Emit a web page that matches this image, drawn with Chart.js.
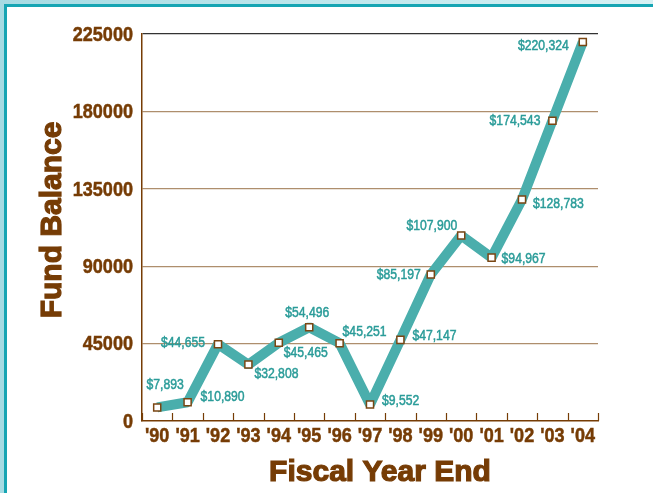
<!DOCTYPE html>
<html>
<head>
<meta charset="utf-8">
<script src="https://cdn.jsdelivr.net/npm/chart.js@4"></script>
<style>
  html, body { margin: 0; padding: 0; }
  body { width: 653px; height: 493px; overflow: hidden; position: relative;
         background: linear-gradient(90deg, #a6dbe3 0%, #c4e9ee 60%, #d6f1f4 100%); }
  #frame { position: absolute; left: 4px; top: 4px; right: -10px; bottom: -10px;
           border-left: 3px solid #16a5b3; border-top: 3px solid #16a5b3; background: #fff; }
  #chart { position: absolute; left: 0; top: 0; }
</style>
</head>
<body>
<div id="frame"></div>
<canvas id="chart" width="653" height="493"></canvas>
<script>
const years = ["'90", "'91", "'92", "'93", "'94", "'95", "'96", "'97", "'98", "'99", "'00", "'01", "'02", "'03", "'04"];
const balances = [7893, 10890, 44655, 32808, 45465, 54496, 45251, 9552, 47147, 85197, 107900, 94967, 128783, 174543, 220324];
const yTicks = [0, 45000, 90000, 135000, 180000, 225000];

// where each value label sits around its point: [dx, dy, align]
const labelPlace = [
  [8, -22, 'center'], [13, -5, 'left'], [-13, -1, 'right'], [6, 10, 'left'], [5, 10, 'left'],
  [-2, -14, 'center'], [3, -11, 'left'], [12, -3, 'left'], [12, -4, 'left'], [-10, 1, 'right'],
  [-4, -9, 'right'], [10, 1, 'left'], [11, 5, 'left'], [-12, 0, 'right'], [-14, 4, 'right']
];

const brown = '#763c05';
const teal = '#4aaeac';
const labelTeal = '#2b9c99';
const sans = '"Liberation Sans", Arial, sans-serif';

// condensed text: squeeze a normal face horizontally, optional stroke to thicken
function narrowText(ctx, text, x, y, align, squeeze, thicken) {
  ctx.save();
  ctx.translate(x, y);
  ctx.scale(squeeze, 1);
  ctx.textAlign = align;
  ctx.fillText(text, 0, 0);
  if (thicken) {
    ctx.lineWidth = thicken;
    ctx.strokeStyle = ctx.fillStyle;
    ctx.strokeText(text, 0, 0);
  }
  ctx.restore();
}

const extras = {
  id: 'extras',
  afterDraw(chart) {
    const ctx = chart.ctx;
    const xs = chart.scales.x;
    const ys = chart.scales.y;
    const area = chart.chartArea;
    ctx.save();
    // category divider ticks pointing up from the axis
    ctx.strokeStyle = brown;
    ctx.lineWidth = 1.2;
    for (let i = 0; i <= years.length; i++) {
      const x = Math.round(xs.getPixelForValue(i - 0.5)) + 0.5;
      ctx.beginPath();
      ctx.moveTo(x, area.bottom);
      ctx.lineTo(x, area.bottom - 8);
      ctx.stroke();
    }
    // axis tick labels
    ctx.fillStyle = brown;
    ctx.textBaseline = 'middle';
    ctx.font = 'bold 21px ' + sans;
    years.forEach((lab, i) => {
      narrowText(ctx, lab, xs.getPixelForValue(i), area.bottom + 15, 'center', 0.86, 0.5);
    });
    yTicks.forEach(v => {
      narrowText(ctx, String(v), area.left - 9, ys.getPixelForValue(v) + 1, 'right', 0.86, 0.5);
    });
    // value labels
    const meta = chart.getDatasetMeta(0);
    ctx.fillStyle = labelTeal;
    ctx.font = '14px ' + sans;
    meta.data.forEach((pt, i) => {
      const [dx, dy, align] = labelPlace[i];
      narrowText(ctx, '$' + balances[i].toLocaleString('en-US'), pt.x + dx, pt.y + dy, align, 0.87, 0.5);
    });
    // axis titles
    ctx.fillStyle = brown;
    ctx.strokeStyle = brown;
    ctx.lineWidth = 1.2;
    ctx.font = 'bold 30px ' + sans;
    ctx.textAlign = 'center';
    ctx.fillText('Fiscal Year End', 380, 473);
    ctx.strokeText('Fiscal Year End', 380, 473);
    ctx.translate(53, 220);
    ctx.rotate(-Math.PI / 2);
    ctx.fillText('Fund Balance', 0, 0);
    ctx.strokeText('Fund Balance', 0, 0);
    ctx.restore();
  }
};

new Chart(document.getElementById('chart'), {
  type: 'line',
  data: {
    labels: years,
    datasets: [{
      data: balances,
      borderColor: teal,
      borderWidth: 10,
      borderJoinStyle: 'bevel',
      tension: 0,
      pointStyle: 'rect',
      pointRadius: 5,
      pointBorderWidth: 1.5,
      pointBorderColor: '#7a4613',
      pointBackgroundColor: '#fff'
    }]
  },
  options: {
    responsive: false,
    animation: false,
    layout: { padding: { top: 34, right: 55, left: 0, bottom: 0 } },
    plugins: { legend: { display: false }, tooltip: { enabled: false } },
    scales: {
      x: {
        offset: true,
        grid: { display: false, drawTicks: false },
        border: { display: true, color: brown, width: 1.5 },
        ticks: { display: false },
        afterFit: s => { s.height = 72; }
      },
      y: {
        min: 0,
        max: 225000,
        afterBuildTicks: s => { s.ticks = yTicks.map(v => ({ value: v })); },
        grid: {
          drawTicks: false,
          color: c => c.tick.value === 225000 ? '#333' : (c.tick.value === 0 ? 'rgba(0,0,0,0)' : '#ae8e6d'),
          lineWidth: 1.2
        },
        border: { display: true, color: brown, width: 1.5 },
        ticks: { display: false },
        afterFit: s => { s.width = 142; }
      }
    }
  },
  plugins: [extras]
});
</script>
</body>
</html>
